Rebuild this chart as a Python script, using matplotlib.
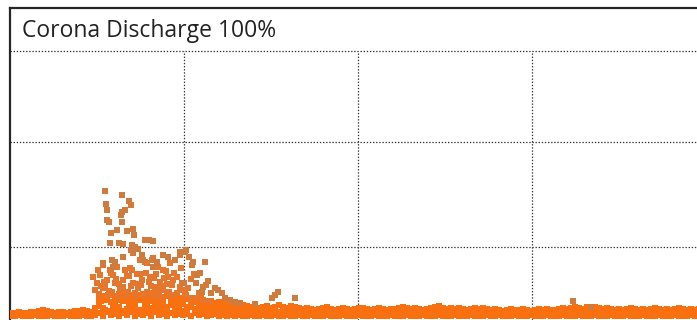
import numpy as np
import matplotlib
matplotlib.use("Agg")
import matplotlib.pyplot as plt

W, H = 697, 320

title = "Corona Discharge 100%"

# ---- data (x: time index, y: discharge amplitude, arbitrary units) ----
# continuous low-level band, three sample rows
band_upper = [7,7,8,7,7,8,8,9,10,9,8,7,8,8,7,8,9,9,10,9,8,
              12,20,24,22,25,23,26,24,22,25,23,24,26,22,24,23,25,22,24,21,23,22,
              22,21,20,22,19,20,18,19,17,18,16,17,15,16,14,15,
              14,13,14,12,13,14,12,13,15,13,12,14,13,12,
              11,12,11,10,11,12,13,11,10,11,12,11,10,11,12,12,11,10,11,12,
              11,10,11,11,12,13,12,11,12,11,10,11,12,13,14,12,11,12,11,12,
              11,10,11,12,11,12,11,
              10,11,10,9,10,11,10,10,11,10,9,10,11,10,11,10,10,11,12,11,
              12,13,12,11,13,12,13,12,11,12,11,10,11,10,11,12,11,10,11,10,
              11,12,11,10,11,10,11,12,11,10,11,10,11]
band_mid = [6,6,7,6,7,6,6,7,7,6,7,6,6,7,6,7,7,6,7,6,7,
            10,18,12,20,9,16,13,19,11,17,14,20,10,15,12,18,9,16,13,19,11,14,
            16,12,14,10,15,11,13,9,12,10,11,9,10,8,11,9,
            9,8,9,8,9,8,8,9,8,9,8,9,8,9,
            8,8,9,8,7,8,8,9,8,8,8,7,8,8,9,8,8,8,7,8,
            8,9,8,8,8,7,8,9,8,8,8,8,7,8,9,8,8,8,8,7,
            8,8,9,8,8,7,8,
            8,7,8,8,7,8,8,7,8,8,7,8,8,7,8,8,8,7,8,8,
            8,8,7,8,8,8,7,8,8,7,8,8,7,8,8,7,8,8,8,7,
            8,8,7,8,8,7,8,8,7,8,8,7,8]
band_lower = [4,4,5,4,4,4,5,4,4,4,5,4,4,4,5,4,4,4,5,4,4,
              5,7,4,8,5,6,4,7,5,8,4,6,5,7,4,8,5,6,4,7,5,6,
              5,6,4,7,5,6,4,5,6,4,5,4,5,4,5,4,
              4,5,4,4,5,4,4,5,4,4,5,4,4,5,
              4,4,5,4,4,4,5,4,4,4,5,4,4,4,5,4,4,4,5,4,
              4,4,5,4,4,4,5,4,4,4,5,4,4,4,5,4,4,4,5,4,
              4,4,5,4,4,4,5,
              4,4,5,4,4,4,5,4,4,4,5,4,4,4,5,4,4,4,5,4,
              4,4,5,4,4,4,5,4,4,4,5,4,4,4,5,4,4,4,5,4,
              4,4,5,4,4,4,5,4,4,4,5,4,4]
burst_fill = [14,22,8,18,11,23,7,20,13,17,9,21,12,19,8,23,15,10,20,12,
              18,9,22,14,11,17,8,19,13,10,16,9,14,11,12,8,13,10]
burst_fill2 = [19,10,26,13,20,9,27,15,22,10,25,16,8,27,13,19,10,24,15,21,
               9,26,13,18,10,22,14,9,17,12,8,14,10,12,9,11,8,10]

# medium-density discharge pulses
mid_x = [83,88,93,100,107,115,122,130,137,143,148,153,160,
         87,97,105,113,123,132,140,150,158,
         85,93,102,110,118,128,137,145,153,162,167,172,
         90,103,117,127,136,146,157,95,109,121,131,141,151,
         89,98,108,116,126,134,143,151,161,167,173,179,186,193,199,
         91,99,106,111,119,125,130,139,146,154,159,164,170,176,181,
         94,101,113,120,129,135,144,149,156,163,171,178,184,189,196]
mid_a = [43,50,55,50,53,50,50,60,57,62,53,50,57,
         37,40,37,40,37,40,43,38,43,
         30,32,28,32,28,32,28,33,30,35,43,37,
         45,45,44,46,47,46,36,35,36,34,35,34,34,
         26,25,24,25,24,25,24,23,25,27,30,22,22,20,19,
         34,29,41,30,44,27,46,38,31,42,28,47,33,25,41,
         38,47,33,52,36,58,42,30,49,40,52,32,46,27,35]

# sparse high-amplitude pulses
peak_x = [95,112,96,97,119,121,112,115,111,99,112,117,123,124,101,
          135,139,143,100,109,113,122,125,121,123,128,132,
          93,102,105,113,133,142,147,153,158,165,170,175,
          179,183,182,195,174,187,190,186,198,193,192,201,205,208,212,
          215,220,225,230,268,265,262,285,245,563,581,
          97,107,103,143,176,170]
peak_a = [129,125,116,110,119,115,108,110,105,98,98,89,91,85,87,
          80,80,79,77,77,76,75,73,70,67,71,65,
          57,60,58,63,60,60,58,65,63,60,65,68,
          63,58,55,58,37,45,47,37,39,33,28,27,32,30,27,
          22,20,18,17,28,25,22,22,16,19,13,
          100,90,53,53,70,68]

grid_x = [174, 348, 522]
grid_y = [73, 178, 269]

# ---- figure ----
fig = plt.figure(figsize=(W / 100, H / 100), dpi=100)
ax = fig.add_axes([10 / W, 0, 696 / W, 312 / H])
ax.set_xlim(0, 696)
ax.set_ylim(0, 312)
ax.set_xticks([])
ax.set_yticks([])
for side in ["bottom", "right"]:
    ax.spines[side].set_visible(False)
for side in ["left", "top"]:
    ax.spines[side].set_linewidth(1.6)
    ax.spines[side].set_color("#262626")

dot = dict(color="#333333", linewidth=0.9, linestyle=(0, (1.1, 1.4)), zorder=1)
ax.hlines(grid_y, 0, 696, **dot)
ax.vlines(grid_x, 0, grid_y[-1], **dot)

ax.text(12, 289, title, fontsize=16.5, family=["Open Sans", "DejaVu Sans"],
        color="#222222", va="center", ha="left")

ms = 15
bright = "#F8700F"
for row in (band_lower, band_mid, band_upper):
    xs = np.linspace(1, 689, len(row))
    ax.scatter(xs, row, s=ms, marker="s", color=bright, linewidths=0, zorder=3)
ax.scatter(np.linspace(89, 237, len(burst_fill)), burst_fill, s=ms, marker="s",
           color=bright, linewidths=0, zorder=3)
ax.scatter(np.linspace(91, 239, len(burst_fill2)), burst_fill2, s=ms, marker="s",
           color=bright, linewidths=0, zorder=3)
ax.scatter(mid_x, mid_a, s=ms, marker="s", color="#E4762E", linewidths=0, zorder=3)
ax.scatter(peak_x, peak_a, s=ms, marker="s", color="#CF7B3E", linewidths=0, zorder=3)

fig.savefig("out.png", dpi=100)
